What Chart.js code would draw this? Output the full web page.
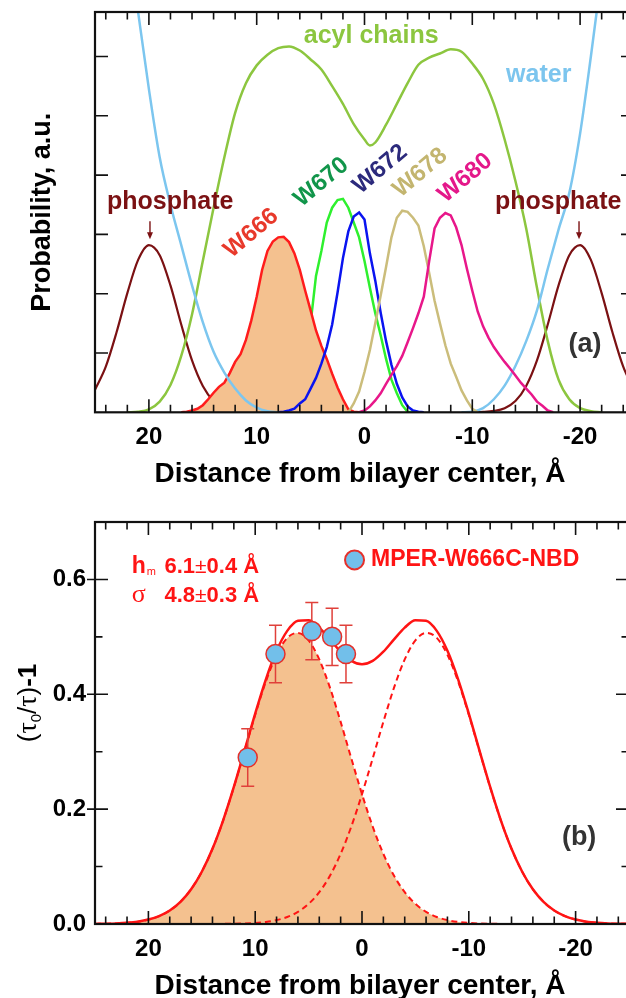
<!doctype html>
<html lang="en">
<head>
<meta charset="utf-8">
<title>MPER W666 depth profile</title>
<script src="https://cdn.jsdelivr.net/npm/chart.js"></script>
<style>
html, body { margin:0; padding:0; overflow:hidden; background:#fff; }
body { width:626px; height:998px; position:relative; }
canvas { position:absolute; left:0; }
#cTop { top:0; }
#cBot { top:490px; }
</style>
</head>
<body>
<canvas id="cTop" width="640" height="490"></canvas>
<canvas id="cBot" width="640" height="508"></canvas>

<script>
// ---------- panel (a): probability profiles (distance in Å, arbitrary units) ----------
const phosInX  = [25,24,23,22,21,20,19,18,17,16,15,14,13,12,11,10];
const phosInY  = [0.38,0.77,1.35,2.01,2.57,2.82,2.65,2.14,1.48,0.875,0.445,0.19,0.07,0.023,0.006,0];
const phosOutX = [-10,-11,-12,-13,-14,-15,-16,-17,-18,-19,-20,-21,-22,-23,-24,-25];
const phosOutY = [0,0.006,0.023,0.07,0.19,0.445,0.875,1.48,2.14,2.65,2.82,2.57,2.01,1.35,0.77,0.38];

const waterInX  = [22,21,20,19,18,17,16,15,14,13,12,11,10,9,8];
const waterInY  = [8.1,6.75,5.45,4.3,3.5,2.82,2.14,1.52,1.02,0.67,0.4,0.2,0.08,0.02,0];
const waterOutX = [-9,-10,-11,-12,-13,-14,-15,-16,-17,-18,-19,-20,-21,-22];
const waterOutY = [0,0.01,0.07,0.22,0.45,0.78,1.2,1.72,2.42,3.08,3.7,4.7,6.0,7.4];

const acylX = [22,21,20,19,18,17,16,15,14,13,12,11,10,9,8,7,6,5,4,3,2,1,0,-0.5,-1,-2,-3,-4,-5,-6,-7,-8,-9,-10,-11,-12,-13,-14,-15,-16,-17,-18,-19,-20,-21,-22];
const acylY = [0,0.01,0.05,0.18,0.46,0.95,1.65,2.55,3.45,4.3,5.05,5.55,5.85,6.03,6.14,6.17,6.1,5.95,5.78,5.5,5.2,4.86,4.6,4.5,4.55,4.85,5.2,5.55,5.86,5.98,6.05,6.12,6.08,5.88,5.62,5.2,4.6,3.9,3.1,2.1,1.2,0.55,0.22,0.07,0.02,0];

const w666X = [17,16.5,16,15.5,15,14.5,14,13.5,13,12.5,12,11.5,11,10.5,10,9.5,9,8.5,8,7.5,7,6.5,6,5.5,5,4.5,4,3.5,3,2.5,2,1.5,1,0.5];
const w666Y = [0,0.01,0.03,0.06,0.12,0.22,0.33,0.43,0.5,0.66,0.85,0.98,1.22,1.55,1.95,2.4,2.72,2.88,2.95,2.96,2.87,2.68,2.4,2.05,1.72,1.38,1.12,0.9,0.65,0.42,0.22,0.05,0.01,0];

const w670X = [7,6.5,6,5.5,5,4.5,4,3.5,3,2.5,2,1.5,1,0.5,0,-0.5,-1,-1.5,-2,-2.5,-3,-3.5,-4,-4.5];
const w670Y = [0,0.1,0.35,0.8,1.5,2.3,2.72,3.2,3.45,3.58,3.6,3.45,3.2,2.95,2.55,2.1,1.67,1.3,0.9,0.55,0.32,0.12,0.01,0];

const w672X = [8,7.5,7,6.5,6,5.5,5,4.5,4,3.5,3,2.5,2,1.5,1,0.5,0,-0.5,-1,-1.5,-2,-2.5,-3,-3.5,-4,-4.5,-5,-5.5];
const w672Y = [0,0.01,0.03,0.06,0.15,0.22,0.4,0.58,0.82,1.1,1.48,2.02,2.6,3.05,3.3,3.37,3.25,2.68,2.22,1.68,1.2,0.8,0.48,0.25,0.1,0.03,0.01,0];

const w678X = [1.5,1,0.5,0,-0.5,-1,-1.5,-2,-2.5,-3,-3.5,-4,-4.5,-5,-5.5,-6,-6.5,-7,-7.5,-8,-8.5,-9,-9.5,-10,-10.5];
const w678Y = [0,0.15,0.35,0.68,1.05,1.5,1.97,2.45,2.95,3.28,3.4,3.38,3.28,3.15,2.8,2.35,1.88,1.5,1.13,0.82,0.6,0.37,0.2,0.06,0];

const w680X = [0.5,0,-0.5,-1,-1.5,-2,-2.5,-3,-3.5,-4,-4.5,-5,-5.5,-6,-6.5,-7,-7.5,-8,-8.5,-9,-9.5,-10,-10.5,-11,-11.5,-12,-12.5,-13,-13.5,-14,-14.5,-15,-15.5,-16,-16.5,-17,-17.5];
const w680Y = [0,0.03,0.1,0.2,0.32,0.48,0.63,0.78,0.95,1.18,1.42,1.67,1.95,2.55,3.1,3.28,3.36,3.32,3.12,2.82,2.42,2.05,1.7,1.45,1.26,1.1,0.97,0.85,0.74,0.62,0.5,0.4,0.3,0.18,0.11,0.03,0];

// ---------- panel (b): quenching data and double-gaussian fit ----------
const ptX   = [10.7, 8.1, 4.7, 2.8, 1.5];
const ptY   = [0.29, 0.47, 0.51, 0.50, 0.47];
const ptErr = [0.05, 0.05, 0.05, 0.05, 0.05];

const fitX = [25,24,23,22,21,20,19,18,17,16,15,14,13,12,11,10,9,8,7,6,5,4,3,2,1,0,-1,-2,-3,-4,-5,-6,-7,-8,-9,-10,-11,-12,-13,-14,-15,-16,-17,-18,-19,-20,-21,-22,-23,-24,-25];
const fitCis = [0.0002,0.0005,0.0010,0.0021,0.0041,0.0077,0.0137,0.0235,0.0385,0.0604,0.0909,0.1309,0.1804,0.2382,0.3011,0.3645,0.4224,0.4688,0.4982,0.5069,0.4939,0.4607,0.4116,0.3520,0.2883,0.2261,0.1698,0.1221,0.0840,0.0554,0.0350,0.0211,0.0122,0.0068,0.0036,0.0018,0.0009,0.0004,0.0002,0.0001,0.0001,0,0,0,0,0,0,0,0,0,0];
const fitTrans = [0,0,0,0,0,0,0,0,0,0,0.0001,0.0001,0.0002,0.0004,0.0009,0.0018,0.0036,0.0068,0.0122,0.0211,0.0350,0.0554,0.0840,0.1221,0.1698,0.2261,0.2883,0.3520,0.4116,0.4607,0.4939,0.5069,0.4982,0.4688,0.4224,0.3645,0.3011,0.2382,0.1804,0.1309,0.0909,0.0604,0.0385,0.0235,0.0137,0.0077,0.0041,0.0021,0.0010,0.0005,0.0002];
const fitSum = [0.0002,0.0005,0.0010,0.0021,0.0041,0.0077,0.0137,0.0235,0.0385,0.0604,0.0910,0.1310,0.1806,0.2386,0.3020,0.3663,0.4260,0.4756,0.5104,0.5280,0.5289,0.5161,0.4956,0.4741,0.4581,0.4522,0.4581,0.4741,0.4956,0.5161,0.5289,0.5280,0.5104,0.4756,0.4260,0.3663,0.3020,0.2386,0.1806,0.1310,0.0910,0.0604,0.0385,0.0235,0.0137,0.0077,0.0041,0.0021,0.0010,0.0005,0.0002];

const xTickVals = [20, 10, 0, -10, -20];
const yTickValsB = [0, 0.2, 0.4, 0.6];

const FONT = '"Liberation Sans", Arial, Helvetica, sans-serif';
const SERIF = '"Liberation Serif", "DejaVu Serif", serif';

function pts(xs, ys) { return xs.map((x, i) => ({ x: x, y: ys[i] })); }

function curve(label, xs, ys, color, order, extra) {
  return Object.assign({
    label: label, data: pts(xs, ys), borderColor: color, borderWidth: 2.5,
    pointRadius: 0, fill: false, order: order, tension: 0
  }, extra || {});
}

function xScale(axisH) {
  return {
    type: 'linear', min: -25, max: 25, reverse: true,
    grid: { display: false, drawTicks: false }, border: { display: false },
    afterBuildTicks: s => { s.ticks = xTickVals.map(v => ({ value: v })); },
    afterFit: s => { s.height = axisH; },
    ticks: { padding: 11, color: '#000', maxRotation: 0, autoSkip: false,
             font: { family: FONT, size: 24, weight: 'bold' }, callback: v => String(v) }
  };
}

// frame with inward ticks on all four sides
function drawFrame(chart, yMajor, yMinor, yOut) {
  const ctx = chart.ctx, a = chart.chartArea, sx = chart.scales.x, sy = chart.scales.y;
  ctx.save();
  ctx.strokeStyle = '#111';
  ctx.lineWidth = 1.6;
  ctx.beginPath();
  for (let v = -24; v <= 24; v += 2) {
    const px = sx.getPixelForValue(v);
    const len = v % 10 === 0 ? 13 : 7.5;
    ctx.moveTo(px, a.bottom); ctx.lineTo(px, a.bottom - len);
    ctx.moveTo(px, a.top); ctx.lineTo(px, a.top + len);
  }
  yMajor.forEach(v => {
    const py = sy.getPixelForValue(v);
    ctx.moveTo(a.left - yOut, py); ctx.lineTo(a.left + 13, py);
    ctx.moveTo(a.right, py); ctx.lineTo(a.right - 13, py);
  });
  yMinor.forEach(v => {
    const py = sy.getPixelForValue(v);
    ctx.moveTo(a.left, py); ctx.lineTo(a.left + 7.5, py);
    ctx.moveTo(a.right, py); ctx.lineTo(a.right - 7.5, py);
  });
  ctx.stroke();
  ctx.lineWidth = 2.2;
  ctx.strokeRect(a.left, a.top, a.right - a.left, a.bottom - a.top);
  ctx.restore();
}

function label(chart, s, xv, yv, font, color, rot, align) {
  const ctx = chart.ctx;
  const px = chart.scales.x.getPixelForValue(xv), py = chart.scales.y.getPixelForValue(yv);
  ctx.save();
  ctx.translate(px, py);
  if (rot) ctx.rotate(rot * Math.PI / 180);
  ctx.font = font; ctx.fillStyle = color;
  ctx.textAlign = align || 'center'; ctx.textBaseline = 'middle';
  ctx.fillText(s, 0, 0);
  ctx.restore();
}

function xTitle(chart) {
  const ctx = chart.ctx, a = chart.chartArea;
  ctx.save();
  ctx.font = 'bold 28px ' + FONT; ctx.fillStyle = '#000';
  ctx.textAlign = 'center'; ctx.textBaseline = 'alphabetic';
  ctx.fillText('Distance from bilayer center, \u00C5', 360, a.bottom + 70);
  ctx.restore();
}

const topDecor = {
  id: 'topDecor',
  afterDatasetsDraw(chart) {
    const ctx = chart.ctx, a = chart.chartArea, sx = chart.scales.x, sy = chart.scales.y;
    drawFrame(chart, [1, 2, 3, 4, 5, 6], [], 0);
    const big = 'bold 25px ' + FONT, w = 'bold 24px ' + FONT;
    label(chart, 'acyl chains', -0.62, 6.34, big, '#8cc63f');
    label(chart, 'water', -16.16, 5.69, big, '#7cc5ee');
    label(chart, 'phosphate', 18.02, 3.55, big, '#7b1113');
    label(chart, 'phosphate', -17.97, 3.55, big, '#7b1113');
    // arrows from the phosphate labels to their peaks
    [19.9, -19.9].forEach(xv => {
      const px = sx.getPixelForValue(xv), y0 = sy.getPixelForValue(3.22), y1 = sy.getPixelForValue(2.92);
      ctx.save();
      ctx.strokeStyle = '#7b1113'; ctx.fillStyle = '#7b1113'; ctx.lineWidth = 1.4;
      ctx.beginPath(); ctx.moveTo(px, y0); ctx.lineTo(px, y1 - 5); ctx.stroke();
      ctx.beginPath(); ctx.moveTo(px - 3, y1 - 7); ctx.lineTo(px + 3, y1 - 7); ctx.lineTo(px, y1); ctx.closePath(); ctx.fill();
      ctx.restore();
    });
    label(chart, 'W666', 10.5, 3.02, w, '#e8392b', -40);
    label(chart, 'W670', 4.0, 3.88, w, '#11954a', -40);
    label(chart, 'W672', -1.46, 4.1, w, '#2c2a7c', -40);
    label(chart, 'W678', -5.17, 4.04, w, '#c3b56f', -40);
    label(chart, 'W680', -9.34, 3.95, w, '#e4188a', -40);
    label(chart, '(a)', -20.46, 1.14, 'bold 27px ' + FONT, '#333');
    // axis titles
    ctx.save();
    ctx.translate(43, (a.top + a.bottom) / 2);
    ctx.rotate(-Math.PI / 2);
    ctx.font = 'bold 27px ' + FONT; ctx.fillStyle = '#000';
    ctx.textAlign = 'center'; ctx.textBaseline = 'middle';
    ctx.fillText('Probability, a.u.', 0, 0);
    ctx.restore();
    xTitle(chart);
  }
};

new Chart(document.getElementById('cTop'), {
  type: 'line',
  data: {
    datasets: [
      curve('W680', w680X, w680Y, '#e8178a', 1),
      curve('W678', w678X, w678Y, '#cbbd7b', 2),
      curve('W672', w672X, w672Y, '#0a14f0', 3),
      curve('water', waterInX, waterInY, '#7cc6ef', 4, { cubicInterpolationMode: 'monotone' }),
      curve('water', waterOutX, waterOutY, '#7cc6ef', 4, { cubicInterpolationMode: 'monotone' }),
      curve('W666', w666X, w666Y, '#ff1c1c', 5, { fill: 'origin', backgroundColor: '#f4c18f' }),
      curve('W670', w670X, w670Y, '#2ef02e', 6),
      curve('acyl chains', acylX, acylY, '#8cc63f', 7, { cubicInterpolationMode: 'monotone' }),
      curve('phosphate', phosInX, phosInY, '#7b1113', 8, { cubicInterpolationMode: 'monotone', borderWidth: 2.2 }),
      curve('phosphate', phosOutX, phosOutY, '#7b1113', 8, { cubicInterpolationMode: 'monotone', borderWidth: 2.2 })
    ]
  },
  options: {
    responsive: false, animation: false, devicePixelRatio: 1,
    layout: { padding: { left: 0, right: 6, top: 12, bottom: 0 } },
    plugins: { legend: { display: false }, tooltip: { enabled: false } },
    scales: {
      x: xScale(77.7),
      y: {
        min: 0, max: 6.75,
        grid: { display: false, drawTicks: false }, border: { display: false },
        ticks: { display: false },
        afterFit: s => { s.width = 95; }
      }
    }
  },
  plugins: [topDecor]
});

// ---------- panel (b) ----------
const botDecor = {
  id: 'botDecor',
  beforeDatasetDraw(chart, args) {
    if (args.index !== 0) return;
    const ctx = chart.ctx, sx = chart.scales.x, sy = chart.scales.y;
    ctx.save();
    ctx.strokeStyle = '#e0403a'; ctx.lineWidth = 1.5;
    ctx.beginPath();
    ptX.forEach((xv, i) => {
      const px = sx.getPixelForValue(xv);
      const hi = sy.getPixelForValue(ptY[i] + ptErr[i]), lo = sy.getPixelForValue(ptY[i] - ptErr[i]);
      ctx.moveTo(px, hi); ctx.lineTo(px, lo);
      ctx.moveTo(px - 6.5, hi); ctx.lineTo(px + 6.5, hi);
      ctx.moveTo(px - 6.5, lo); ctx.lineTo(px + 6.5, lo);
    });
    ctx.stroke();
    ctx.restore();
  },
  afterDatasetsDraw(chart) {
    const ctx = chart.ctx, a = chart.chartArea, sx = chart.scales.x, sy = chart.scales.y;
    drawFrame(chart, [0.2, 0.4, 0.6], [0.1, 0.3, 0.5], 8);
    const red = '#ff1414';
    const bold = 'bold 22px ' + FONT;
    // fit parameters
    ctx.save();
    ctx.fillStyle = red; ctx.textBaseline = 'alphabetic'; ctx.textAlign = 'left';
    const x0 = sx.getPixelForValue(21.57), xn = sx.getPixelForValue(18.5);
    const b1 = sy.getPixelForValue(0.625) + 8, b2 = sy.getPixelForValue(0.575) + 8;
    ctx.font = 'bold 23px ' + FONT; ctx.fillText('h', x0, b1);
    const hw = ctx.measureText('h').width;
    ctx.font = '11px ' + FONT; ctx.fillText('m', x0 + hw + 1, b1 + 2);
    ctx.font = '26px ' + SERIF; ctx.fillText('\u03C3', x0, b2);
    [[b1, '6.1', '0.4'], [b2, '4.8', '0.3']].forEach(r => {
      let x = xn;
      ctx.font = bold; ctx.fillText(r[1], x, r[0]); x += ctx.measureText(r[1]).width;
      ctx.font = '21px ' + FONT; ctx.fillText('\u00B1', x, r[0]); x += ctx.measureText('\u00B1').width;
      ctx.font = bold; ctx.fillText(r[2] + ' \u00C5', x, r[0]);
    });
    ctx.restore();
    // legend
    const lx = sx.getPixelForValue(0.70), ly = sy.getPixelForValue(0.634);
    ctx.save();
    ctx.beginPath(); ctx.arc(lx, ly, 9.5, 0, Math.PI * 2);
    ctx.fillStyle = '#72bfea'; ctx.fill();
    ctx.strokeStyle = '#e5302a'; ctx.lineWidth = 2; ctx.stroke();
    ctx.restore();
    label(chart, 'MPER-W666C-NBD', -0.84, 0.634, 'bold 23px ' + FONT, red, 0, 'left');
    label(chart, '(b)', -20.33, 0.151, 'bold 27px ' + FONT, '#333');
    // y title (tau_0/tau)-1, centred at page y 703 (canvas starts at 490)
    const parts = [
      { t: '(', f: '26px ' + FONT, dy: 0 },
      { t: '\u03C4', f: '28px ' + SERIF, dy: 0 },
      { t: '0', f: '15px ' + FONT, dy: 5 },
      { t: '/', f: '26px ' + FONT, dy: 0 },
      { t: '\u03C4', f: '28px ' + SERIF, dy: 0 },
      { t: ')', f: '26px ' + FONT, dy: 0 },
      { t: '-1', f: 'bold 26px ' + FONT, dy: 0 }
    ];
    ctx.save();
    ctx.translate(27, 213);
    ctx.rotate(-Math.PI / 2);
    ctx.fillStyle = '#000'; ctx.textBaseline = 'alphabetic'; ctx.textAlign = 'left';
    let total = 0;
    parts.forEach(p => { ctx.font = p.f; p.w = ctx.measureText(p.t).width; total += p.w; });
    let x = -total / 2;
    parts.forEach(p => { ctx.font = p.f; ctx.fillText(p.t, x, 9 + p.dy); x += p.w; });
    ctx.restore();
    xTitle(chart);
  }
};

new Chart(document.getElementById('cBot'), {
  type: 'line',
  data: {
    datasets: [
      { label: 'MPER-W666C-NBD', data: pts(ptX, ptY), showLine: false, order: 0,
        pointRadius: 9.5, pointBackgroundColor: '#72bfea', pointBorderColor: '#e5302a', pointBorderWidth: 1.5 },
      curve('fit', fitX, fitSum, '#ff1414', 1, { cubicInterpolationMode: 'monotone' }),
      curve('trans leaflet', fitX, fitTrans, '#ff1414', 2, { cubicInterpolationMode: 'monotone', borderWidth: 2, borderDash: [6, 4] }),
      curve('cis leaflet', fitX, fitCis, '#ff1414', 3, { cubicInterpolationMode: 'monotone', borderWidth: 2, borderDash: [6, 4], fill: 'origin', backgroundColor: '#f4c18f' })
    ]
  },
  options: {
    responsive: false, animation: false, devicePixelRatio: 1,
    layout: { padding: { left: 0, right: 6, top: 32, bottom: 0 } },
    plugins: { legend: { display: false }, tooltip: { enabled: false } },
    scales: {
      x: xScale(74),
      y: {
        min: 0, max: 0.7,
        grid: { display: false, drawTicks: false }, border: { display: false },
        afterBuildTicks: s => { s.ticks = yTickValsB.map(v => ({ value: v })); },
        afterFit: s => { s.width = 95; },
        ticks: { padding: 9, color: '#000', font: { family: FONT, size: 24, weight: 'bold' },
                 callback: v => v.toFixed(1) }
      }
    }
  },
  plugins: [botDecor]
});
</script>
</body>
</html>
